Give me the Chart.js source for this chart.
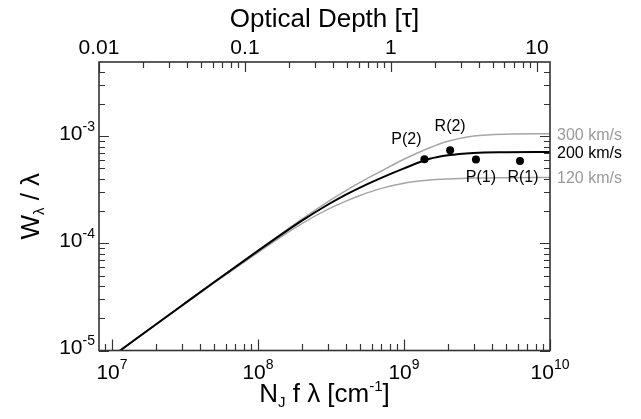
<!DOCTYPE html>
<html lang="en">
<head>
  <meta charset="UTF-8">
  <title>Curve of growth</title>
  <script src="https://cdn.jsdelivr.net/npm/chart.js"></script>
  <style>
    body {
      margin: 0;
      padding: 0;
      background: #fff;
    }
    canvas {
      display: block;
    }
  </style>
</head>
<body>
  <canvas id="graph" width="641" height="419"></canvas>

  <script>
    // N_J f lambda [cm^-1]
    const columnDensity = [1e7, 3e7, 5e7, 1e8, 1.5e8, 2e8, 3e8, 4e8, 5e8, 7e8, 1e9, 1.5e9, 2e9, 3e9, 5e9, 1e10];
    // W_lambda / lambda for each Doppler parameter
    const width300 = [8.8e-6, 2.64e-5, 4.37e-5, 8.6e-5, 1.276e-4, 1.68e-4, 2.434e-4, 3.10e-4, 3.705e-4, 4.738e-4, 6.1e-4, 7.81e-4, 8.98e-4, 1.004e-3, 1.046e-3, 1.055e-3];
    const width200 = [8.8e-6, 2.62e-5, 4.34e-5, 8.5e-5, 1.252e-4, 1.63e-4, 2.293e-4, 2.854e-4, 3.32e-4, 4.085e-4, 5.01e-4, 6.155e-4, 6.65e-4, 6.99e-4, 7.105e-4, 7.14e-4];
    const width120 = [8.8e-6, 2.6e-5, 4.27e-5, 8.21e-5, 1.197e-4, 1.531e-4, 2.073e-4, 2.482e-4, 2.80e-4, 3.26e-4, 3.646e-4, 3.897e-4, 3.99e-4, 4.067e-4, 4.10e-4, 4.12e-4];
    const curveNames = ['300 km/s', '200 km/s', '120 km/s'];

    // measured lines
    const lineNames = ['P(2)', 'R(2)', 'P(1)', 'R(1)'];
    const lineColumn = [1.38e9, 2.07e9, 3.11e9, 6.23e9];
    const lineEqw = [6.1e-4, 7.4e-4, 6.07e-4, 5.88e-4];

    // axis ticks
    const xMajor = [1e7, 1e8, 1e9, 1e10];
    const xMajorExp = ['7', '8', '9', '10'];
    const yMajor = [1e-5, 1e-4, 1e-3];
    const yMajorExp = ['-5', '-4', '-3'];
    const tauMajor = [0.01, 0.1, 1, 10];
    const tauLabels = ['0.01', '0.1', '1', '10'];

    const FONT = '"Liberation Sans", Arial, Helvetica, sans-serif';
    const GREY = '#a6a6a6';
    const GREY_TEXT = '#9a9a9a';

    function font(px) { return px + 'px ' + FONT; }

    // parts: [text, size, dy]
    function richText(c, parts, x, y, align) {
      let w = 0;
      parts.forEach(p => { c.font = font(p[1]); w += c.measureText(p[0]).width; });
      let cx = align === 'center' ? x - w / 2 : (align === 'right' ? x - w : x);
      c.textAlign = 'left';
      c.textBaseline = 'alphabetic';
      parts.forEach(p => {
        c.font = font(p[1]);
        c.fillText(p[0], cx, y + (p[2] || 0));
        cx += c.measureText(p[0]).width;
      });
    }

    function logTicks(min, max) {
      const out = [];
      const e0 = Math.floor(Math.log10(min)), e1 = Math.ceil(Math.log10(max));
      for (let e = e0; e <= e1; e++) {
        for (let d = 1; d <= 9; d++) {
          const v = d * Math.pow(10, e);
          if (v >= min * 0.999 && v <= max * 1.001) out.push({ v: v, major: d === 1 });
        }
      }
      return out;
    }

    const pts = (xs, ys) => xs.map((x, i) => ({ x: x, y: ys[i] }));

    const framePlugin = {
      id: 'frame',
      afterDraw(chart) {
        const c = chart.ctx;
        const a = chart.chartArea;
        const xs = chart.scales.x, ys = chart.scales.y, ts = chart.scales.x2;
        c.save();

        // ticks
        c.strokeStyle = '#333';
        c.lineWidth = 1.2;
        c.beginPath();
        logTicks(xs.min, xs.max).forEach(t => {
          const px = Math.round(xs.getPixelForValue(t.v)) + 0.5;
          c.moveTo(px, a.bottom);
          c.lineTo(px, a.bottom - (t.major ? 11 : 6.5));
        });
        logTicks(ts.min, ts.max).forEach(t => {
          const px = Math.round(ts.getPixelForValue(t.v)) + 0.5;
          c.moveTo(px, a.top);
          c.lineTo(px, a.top + (t.major ? 10 : 6));
        });
        logTicks(ys.min, ys.max).forEach(t => {
          const py = Math.round(ys.getPixelForValue(t.v)) + 0.5;
          const len = t.major ? 10 : 6;
          c.moveTo(a.left, py);
          c.lineTo(a.left + len, py);
          c.moveTo(a.right, py);
          c.lineTo(a.right - len, py);
        });
        c.stroke();

        // frame
        c.lineWidth = 1.6;
        c.strokeRect(a.left, a.top, a.right - a.left, a.bottom - a.top);

        // tick labels
        c.fillStyle = '#000';
        xMajor.forEach((v, i) => {
          richText(c, [['10', 21, 0], [xMajorExp[i], 14, -10]], xs.getPixelForValue(v), a.bottom + 28, 'center');
        });
        yMajor.forEach((v, i) => {
          richText(c, [['10', 21, 0], [yMajorExp[i], 14, -9]], a.left - 4, ys.getPixelForValue(v) + 3.5, 'right');
        });
        tauMajor.forEach((v, i) => {
          richText(c, [[tauLabels[i], 21, 0]], ts.getPixelForValue(v), a.top - 8, 'center');
        });

        // axis titles
        const midX = (a.left + a.right) / 2;
        const midY = (a.top + a.bottom) / 2;
        richText(c, [['Optical Depth [\u03c4]', 26, 0]], midX, 27, 'center');
        richText(c, [['N', 26, 0], ['J', 15, 5], [' f \u03bb [cm', 26, 0], ['-1', 15, -11], [']', 26, 0]], midX, 402, 'center');
        c.save();
        c.translate(39, midY);
        c.rotate(-Math.PI / 2);
        richText(c, [['W', 26, 0], ['\u03bb', 15, 5], [' / \u03bb', 26, 0]], 0, 0, 'center');
        c.restore();

        // curve labels
        const ends = [width300, width200, width120];
        const cols = [GREY_TEXT, '#000', GREY_TEXT];
        c.font = font(16);
        c.textAlign = 'left';
        c.textBaseline = 'middle';
        ends.forEach((arr, i) => {
          c.fillStyle = cols[i];
          c.fillText(curveNames[i], a.right + 7, ys.getPixelForValue(arr[arr.length - 1]) + 1.5);
        });

        // line labels
        const offs = [[-18, -20], [0, -24], [5, 18], [3, 17]];
        c.fillStyle = '#000';
        c.textAlign = 'center';
        lineNames.forEach((n, i) => {
          const px = xs.getPixelForValue(lineColumn[i]);
          const py = ys.getPixelForValue(lineEqw[i]);
          c.fillText(n, px + offs[i][0], py + offs[i][1]);
        });

        c.restore();
      }
    };

    const ctx = document.getElementById('graph').getContext('2d');
    const chart = new Chart(ctx, {
      type: 'line',
      data: {
        datasets: [
          {
            label: 'lines',
            data: pts(lineColumn, lineEqw),
            showLine: false,
            pointRadius: 4,
            pointBackgroundColor: '#000',
            pointBorderWidth: 0
          },
          {
            label: curveNames[1],
            data: pts(columnDensity, width200),
            borderColor: '#000',
            borderWidth: 2,
            pointRadius: 0,
            cubicInterpolationMode: 'monotone'
          },
          {
            label: curveNames[0],
            data: pts(columnDensity, width300),
            borderColor: GREY,
            borderWidth: 1.5,
            pointRadius: 0,
            cubicInterpolationMode: 'monotone'
          },
          {
            label: curveNames[2],
            data: pts(columnDensity, width120),
            borderColor: GREY,
            borderWidth: 1.5,
            pointRadius: 0,
            cubicInterpolationMode: 'monotone'
          }
        ]
      },
      options: {
        responsive: false,
        animation: false,
        layout: { padding: { left: 99, right: 91, top: 62, bottom: 68.5 } },
        plugins: {
          legend: { display: false },
          tooltip: { enabled: false }
        },
        scales: {
          x: { type: 'logarithmic', min: 8.15e6, max: 1e10, display: false },
          x2: { type: 'logarithmic', axis: 'x', position: 'top', min: 0.01, max: 12.3, display: false },
          y: { type: 'logarithmic', min: 1e-5, max: 4.93e-3, display: false }
        }
      },
      plugins: [framePlugin]
    });
  </script>
</body>
</html>
